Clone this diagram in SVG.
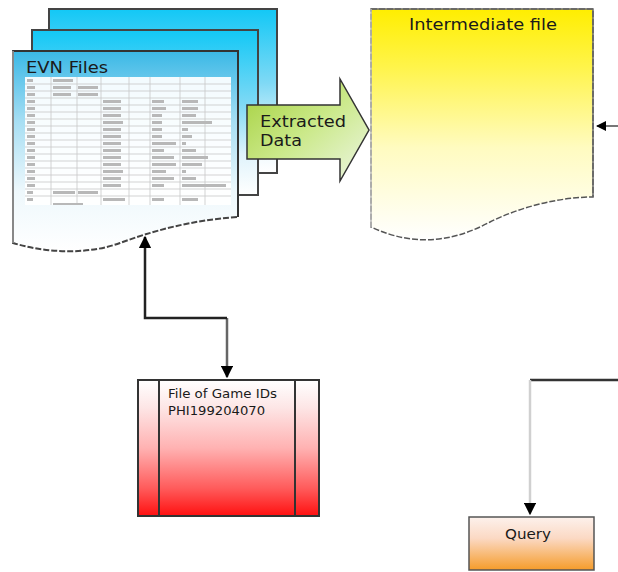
<svg xmlns="http://www.w3.org/2000/svg" width="618" height="572" viewBox="0 0 618 572">
<defs>
<linearGradient id="gBlue" x1="0" y1="0" x2="0" y2="1">
<stop offset="0" stop-color="#12c8f6"/>
<stop offset="0.45" stop-color="#7fd9f5"/>
<stop offset="0.75" stop-color="#dff3fb"/>
<stop offset="1" stop-color="#ffffff"/>
</linearGradient>
<linearGradient id="gFront" x1="0" y1="0" x2="0" y2="1">
<stop offset="0" stop-color="#3ab8e6"/>
<stop offset="0.35" stop-color="#a6def3"/>
<stop offset="0.7" stop-color="#eef8fc"/>
<stop offset="1" stop-color="#ffffff"/>
</linearGradient>
<linearGradient id="gYellow" x1="0" y1="0" x2="0" y2="1">
<stop offset="0" stop-color="#ffee00"/>
<stop offset="0.25" stop-color="#fff44a"/>
<stop offset="0.6" stop-color="#fffbc0"/>
<stop offset="1" stop-color="#ffffff"/>
</linearGradient>
<linearGradient id="gGreen" x1="0" y1="0" x2="1" y2="1">
<stop offset="0" stop-color="#a3cf3a"/>
<stop offset="0.5" stop-color="#cbe98a"/>
<stop offset="1" stop-color="#eef6e6"/>
</linearGradient>
<linearGradient id="gRed" x1="0" y1="0" x2="0" y2="1">
<stop offset="0" stop-color="#ffffff"/>
<stop offset="0.2" stop-color="#fde6e6"/>
<stop offset="0.5" stop-color="#ffb2b2"/>
<stop offset="0.8" stop-color="#ff5a5a"/>
<stop offset="1" stop-color="#ff1010"/>
</linearGradient>
<linearGradient id="gOrange" x1="0" y1="0" x2="0" y2="1">
<stop offset="0" stop-color="#fdf1ec"/>
<stop offset="0.4" stop-color="#fbd9c4"/>
<stop offset="1" stop-color="#f59c2a"/>
</linearGradient>
<marker id="arr" viewBox="0 0 10 10" refX="9" refY="5" markerWidth="5" markerHeight="5" orient="auto-start-reverse">
<path d="M0,0 L10,5 L0,10 z" fill="#000"/>
</marker>
</defs>
<style>
text{font-family:"DejaVu Sans","Liberation Sans",sans-serif;fill:#1a1a1a;}
.sheet{stroke:#444;stroke-width:2;}
.tl{stroke:#c8c8c8;stroke-width:0.8;fill:none;}
.tx{fill:#b8b8b8;}
.conn{fill:none;stroke-width:2.5;}
</style>

<g id="evn-files">
<path class="sheet" d="M49,9 H277 V173 H49 Z" fill="url(#gBlue)"/>
<path class="sheet" d="M32,30 H258 V195 H32 Z" fill="url(#gBlue)"/>
<path d="M13,51 H238 V217 C190,220 150,232 120,243 C90,254 50,254 13,243 Z" fill="url(#gFront)" stroke="#444" stroke-width="2" stroke-dasharray="6,2"/>
<path d="M13,51 H238 V217" fill="none" stroke="#333" stroke-width="2"/>
<path d="M13,51 V243" fill="none" stroke="#888" stroke-width="2"/>
<text x="26" y="73" font-size="15" textLength="82" lengthAdjust="spacingAndGlyphs">EVN Files</text>
<rect x="25" y="77" width="206" height="128" fill="#ffffff" opacity="0.92"/>
<g class="tl">
<path d="M25,84 H231 M25,91 H231 M25,98 H231 M25,105 H231 M25,112 H231 M25,119 H231 M25,126 H231 M25,133 H231 M25,140 H231 M25,147 H231 M25,154 H231 M25,161 H231 M25,168 H231 M25,175 H231 M25,182 H231 M25,189 H231 M25,196 H231"/>
<path d="M51,77 V205 M77,77 V205 M101,77 V205 M129,77 V205 M150,77 V205 M180,77 V205 M205,77 V205"/>
</g>
<g class="tx">
<rect x="27" y="79" width="6" height="3"/><rect x="53" y="79" width="20" height="3"/>
<rect x="27" y="86" width="8" height="3"/><rect x="53" y="86" width="18" height="3"/><rect x="78" y="86" width="20" height="3"/>
<rect x="27" y="93" width="8" height="3"/><rect x="53" y="93" width="18" height="3"/><rect x="78" y="93" width="20" height="3"/>
<rect x="27" y="100" width="8" height="3"/><rect x="103" y="100" width="18" height="3"/><rect x="152" y="100" width="12" height="3"/><rect x="182" y="100" width="16" height="3"/>
<rect x="27" y="107" width="8" height="3"/><rect x="103" y="107" width="18" height="3"/><rect x="152" y="107" width="14" height="3"/><rect x="182" y="107" width="16" height="3"/>
<rect x="27" y="114" width="8" height="3"/><rect x="103" y="114" width="18" height="3"/><rect x="152" y="114" width="10" height="3"/><rect x="182" y="114" width="14" height="3"/>
<rect x="27" y="121" width="8" height="3"/><rect x="103" y="121" width="20" height="3"/><rect x="152" y="121" width="10" height="3"/><rect x="182" y="121" width="30" height="3"/>
<rect x="27" y="128" width="8" height="3"/><rect x="103" y="128" width="18" height="3"/><rect x="152" y="128" width="10" height="3"/><rect x="182" y="128" width="6" height="3"/>
<rect x="27" y="135" width="8" height="3"/><rect x="103" y="135" width="18" height="3"/><rect x="152" y="135" width="10" height="3"/><rect x="182" y="135" width="10" height="3"/>
<rect x="27" y="142" width="8" height="3"/><rect x="103" y="142" width="18" height="3"/><rect x="152" y="142" width="24" height="3"/><rect x="182" y="142" width="4" height="3"/>
<rect x="27" y="149" width="8" height="3"/><rect x="103" y="149" width="18" height="3"/><rect x="152" y="149" width="12" height="3"/><rect x="182" y="149" width="14" height="3"/>
<rect x="27" y="156" width="8" height="3"/><rect x="103" y="156" width="18" height="3"/><rect x="152" y="156" width="22" height="3"/><rect x="182" y="156" width="26" height="3"/>
<rect x="27" y="163" width="8" height="3"/><rect x="103" y="163" width="18" height="3"/><rect x="152" y="163" width="24" height="3"/><rect x="182" y="163" width="20" height="3"/>
<rect x="27" y="170" width="8" height="3"/><rect x="103" y="170" width="20" height="3"/><rect x="152" y="170" width="14" height="3"/><rect x="182" y="170" width="4" height="3"/>
<rect x="27" y="177" width="8" height="3"/><rect x="103" y="177" width="18" height="3"/><rect x="152" y="177" width="22" height="3"/><rect x="182" y="177" width="14" height="3"/>
<rect x="27" y="184" width="8" height="3"/><rect x="103" y="184" width="18" height="3"/><rect x="152" y="184" width="12" height="3"/><rect x="182" y="184" width="44" height="3"/>
<rect x="27" y="191" width="6" height="3"/><rect x="53" y="191" width="22" height="3"/><rect x="78" y="191" width="20" height="3"/>
<rect x="27" y="198" width="6" height="3"/><rect x="103" y="198" width="22" height="3"/><rect x="152" y="198" width="12" height="3"/><rect x="182" y="198" width="16" height="3"/>
<rect x="53" y="203" width="30" height="2"/>
</g>
</g>

<g id="extracted-data">
<path d="M247,105 H340 V79 L369,130 L340,181 V159 H247 Z" fill="url(#gGreen)" stroke="#333" stroke-width="1.5"/>
<text x="260" y="127" font-size="15" textLength="86" lengthAdjust="spacingAndGlyphs" fill="#222">Extracted</text>
<text x="260" y="146" font-size="15" textLength="42" lengthAdjust="spacingAndGlyphs" fill="#222">Data</text>
</g>

<g id="intermediate-file">
<path d="M371,9 H593 V197 C560,197 520,207 490,222 C460,238 420,250 371,227 Z" fill="url(#gYellow)" stroke="#555" stroke-width="1.5" stroke-dasharray="6,2"/>
<path d="M371,9 H593 V197" fill="none" stroke="#666" stroke-width="1.5"/>
<path d="M371,9 V227" fill="none" stroke="#bbb" stroke-width="1.5"/>
<text x="409" y="30" font-size="15" textLength="148" lengthAdjust="spacingAndGlyphs">Intermediate file</text>
</g>

<g id="game-ids">
<rect x="138" y="380" width="181" height="136" fill="url(#gRed)" stroke="#333" stroke-width="2"/>
<path d="M159,380 V516 M295,380 V516" stroke="#333" stroke-width="2"/>
<text x="168" y="398" font-size="13" textLength="109" lengthAdjust="spacingAndGlyphs">File of Game IDs</text>
<text x="168" y="415" font-size="13" textLength="97" lengthAdjust="spacingAndGlyphs">PHI199204070</text>
</g>

<g id="query">
<rect x="469" y="517" width="125" height="53" fill="url(#gOrange)" stroke="#555" stroke-width="1.5"/>
<text x="505" y="539" font-size="14" textLength="46" lengthAdjust="spacingAndGlyphs">Query</text>
</g>

<g id="connectors">
<path class="conn" d="M227,318 V377" stroke="#666" marker-end="url(#arr)"/>
<path class="conn" d="M227,318 H145 V237" stroke="#222" marker-end="url(#arr)"/>
<path d="M618,126 H597" fill="none" stroke="#777" stroke-width="2" marker-end="url(#arr)"/>
<path d="M618,380 H530" fill="none" stroke="#333" stroke-width="2.5"/>
<path d="M530,380 V514" fill="none" stroke="#d0d0d0" stroke-width="2.5" marker-end="url(#arr)"/>
</g>
</svg>
